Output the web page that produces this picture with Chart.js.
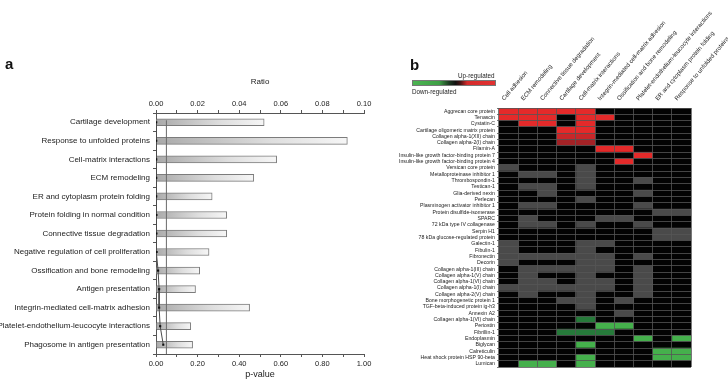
<!DOCTYPE html>
<html>
<head>
<meta charset="utf-8">
<script src="https://cdn.jsdelivr.net/npm/chart.js@4.4.1/dist/chart.umd.min.js"></script>
<style>
  body { margin: 0; background: #fff; font-family: "Liberation Sans", Arial, sans-serif; }
  #wrap { position: relative; width: 728px; height: 381px; overflow: hidden; }
  canvas { position: absolute; top: 0; }
  .tag { position: absolute; font-weight: bold; font-size: 15px; line-height: 1; color: #111; }
  .legend-bar { position: absolute; left: 412px; top: 80px; width: 84px; height: 6px; box-sizing: border-box;
    border: 1px solid #777;
    background: linear-gradient(to right, #4cb552 0%, #3e9f46 32%, #1d3b22 44%, #111 52%, #4a1414 58%, #d42b2b 66%, #e23131 100%); }
  .legend-txt { position: absolute; font-size: 6.3px; color: #222; line-height: 1; }
</style>
</head>
<body>
<div id="wrap">
  <canvas id="chartA" width="380" height="381" style="left:0"></canvas>
  <canvas id="chartB" width="348" height="381" style="left:380px"></canvas>
  <div class="tag" style="left:5px;top:56px">a</div>
  <div class="tag" style="left:410px;top:57px">b</div>
  <div class="legend-txt" style="left:458px;top:73px">Up-regulated</div>
  <div class="legend-bar"></div>
  <div class="legend-txt" style="left:412px;top:89px">Down-regulated</div>
</div>
<script>
// panel a: enriched processes
const processes = [
  'Cartilage development', 'Response to unfolded proteins', 'Cell-matrix interactions',
  'ECM remodeling', 'ER and cytoplasm protein folding', 'Protein folding in normal condition',
  'Connective tissue degradation', 'Negative regulation of cell proliferation',
  'Ossification and bone remodeling', 'Antigen presentation',
  'Integrin-mediated cell-matrix adhesion', 'Platelet-endothelium-leucocyte interactions',
  'Phagosome in antigen presentation'
]
const ratio = [0.052, 0.092, 0.058, 0.047, 0.027, 0.034, 0.034, 0.0255, 0.021, 0.019, 0.045, 0.0167, 0.0176]
const pValue = [0.001, 0.001, 0.001, 0.001, 0.001, 0.002, 0.002, 0.003, 0.01, 0.015, 0.015, 0.02, 0.035]
const pThreshold = 0.05

// panel b: heatmap
const heatColumns = [
  'Cell adhesion', 'ECM remodeling', 'Connective tissue degradation', 'Cartilage development',
  'Cell-matrix interactions', 'Integrin-mediated cell-matrix adhesion', 'Ossification and bone remodeling',
  'Platelet-endothelium-leucocyte interactions', 'ER and cytoplasm protein folding',
  'Response to unfolded proteins'
]
const proteins = [
  'Aggrecan core protein', 'Tenascin', 'Cystatin-C', 'Cartilage oligomeric matrix protein',
  'Collagen alpha-1(XII) chain', 'Collagen alpha-2(I) chain', 'Filamin-A',
  'Insulin-like growth factor-binding protein 7', 'Insulin-like growth factor-binding protein 4',
  'Versican core protein', 'Metalloproteinase inhibitor 1', 'Thrombospondin-1', 'Testican-1',
  'Glia-derived nexin', 'Perlecan', 'Plasminogen activator inhibitor 1', 'Protein disulfide-isomerase',
  'SPARC', '72 kDa type IV collagenase', 'Serpin H1', '78 kDa glucose-regulated protein',
  'Galectin-1', 'Fibulin-1', 'Fibronectin', 'Decorin', 'Collagen alpha-1(III) chain',
  'Collagen alpha-1(V) chain', 'Collagen alpha-1(VI) chain', 'Collagen alpha-1(I) chain',
  'Collagen alpha-2(V) chain', 'Bone morphogenetic protein 1', 'TGF-beta-induced protein ig-h3',
  'Annexin A2', 'Collagen alpha-1(VI) chain', 'Periostin', 'Fibrillin-1', 'Endoplasmin',
  'Biglycan', 'Calreticulin', 'Heat shock protein HSP 90-beta', 'Lumican'
]
// one string per protein, one char per column
// R up, r up (weaker), q up (weakest), G down, g down (weaker), n in process / unchanged, . absent
const regulation = [
  'RRRRR.....', 'RRR.RR....', '.RR.R.....', '...RR.....', '...rr.....', '...qq.....',
  '.....RR...', '.......R..', '......R...', 'n...n.....', '.nn.n.....', '....n..n..',
  '.nn.n.....', '..n....n..', '....n.....', '.nn....n..', '........nn', '.n...nn...',
  '.nn.n..n..', '........nn', '........nn', 'n...nn....', 'n...n.....', 'nnnnnn.n..',
  'n...nn....', '.nnnnn.n..', '.n..n..n..', '.nn.nn.n..', 'nnnnnn.n..', '.n..n..n..',
  '...nn.n...', '....n.....', '......n...', '....g.....', '.....GG...', '...ggg....',
  '.......G.G', '....G.....', '........GG', '....G...GG', '.GG.G.....'
]
const cellColors = { R: '#e42a2a', r: '#c92629', q: '#a32226', G: '#45b04c', g: '#267a3a', n: '#4a4a4a', '.': '#030303' }

const txt = '#222'
const axisGray = '#555'

const barFill = (context) => {
  const chart = context.chart
  const area = chart.chartArea
  if (!area || context.dataIndex === undefined) return '#d6d6d6'
  const xs = chart.scales.xr
  const x0 = xs.getPixelForValue(0)
  const x1 = xs.getPixelForValue(ratio[context.dataIndex])
  const g = chart.ctx.createLinearGradient(x0, 0, x1, 0)
  g.addColorStop(0, '#a9a9a9')
  g.addColorStop(0.6, '#dedede')
  g.addColorStop(1, '#f6f6f6')
  return g
}

const thresholdLine = {
  id: 'thresholdLine',
  afterDatasetsDraw(chart) {
    const { ctx, chartArea, scales } = chart
    const x = scales.xp.getPixelForValue(pThreshold)
    const yTop = scales.y.getPixelForValue(0) - 2
    ctx.save()
    ctx.strokeStyle = '#6a6a6a'
    ctx.lineWidth = 1
    ctx.beginPath()
    ctx.moveTo(x, yTop)
    ctx.lineTo(x, chartArea.bottom)
    ctx.stroke()
    ctx.restore()
  }
}

new Chart(document.getElementById('chartA'), {
  type: 'bar',
  data: {
    labels: processes,
    datasets: [
      {
        type: 'line', label: 'p-value', data: pValue, xAxisID: 'xp', yAxisID: 'y',
        borderColor: '#4a4a4a', borderWidth: 1, pointStyle: 'rect', pointRadius: 1.5,
        pointBackgroundColor: '#111', pointBorderColor: '#111', pointBorderWidth: 0, order: 0
      },
      {
        label: 'Ratio', data: ratio, xAxisID: 'xr', yAxisID: 'y',
        backgroundColor: barFill, borderColor: '#7c7c7c', borderWidth: 1, barThickness: 7, order: 1
      }
    ]
  },
  options: {
    indexAxis: 'y',
    responsive: false,
    animation: false,
    layout: { padding: { top: 77, right: 16, left: 0, bottom: 0 } },
    plugins: { legend: { display: false }, tooltip: { enabled: false } },
    scales: {
      y: {
        type: 'category', position: 'left',
        grid: { drawOnChartArea: false, tickLength: 3, color: axisGray, offset: true },
        border: { color: axisGray },
        ticks: { color: txt, font: { size: 8 }, padding: 3, autoSkip: false },
        afterFit(s) { s.width = 156 }
      },
      xr: {
        type: 'linear', position: 'top', min: 0, max: 0.1,
        grid: { drawOnChartArea: false, tickLength: 3, color: axisGray },
        border: { color: axisGray },
        ticks: {
          stepSize: 0.01, autoSkip: false, maxRotation: 0, color: txt, font: { size: 7.5 }, padding: 2,
          callback: (v, i) => (i % 2 ? '' : v.toFixed(2))
        },
        title: { display: true, text: 'Ratio', color: txt, font: { size: 8 }, padding: { top: 0, bottom: 3 } },
        afterFit(s) { s.height = 36; s.paddingLeft = 0; s.paddingRight = 0 }
      },
      xp: {
        type: 'linear', position: 'bottom', min: 0, max: 1,
        grid: { drawOnChartArea: false, tickLength: 3, color: axisGray },
        border: { color: axisGray },
        ticks: {
          stepSize: 0.1, autoSkip: false, maxRotation: 0, color: txt, font: { size: 7.5 }, padding: 2,
          callback: (v, i) => (i % 2 ? '' : v.toFixed(2))
        },
        title: { display: true, text: 'p-value', color: txt, font: { size: 9 }, padding: { top: 1, bottom: 1 } },
        afterFit(s) { s.height = 27; s.paddingLeft = 0; s.paddingRight = 0 }
      }
    }
  },
  plugins: [thresholdLine]
})

const cellGrid = '#555'

new Chart(document.getElementById('chartB'), {
  type: 'bar',
  data: {
    labels: proteins,
    datasets: heatColumns.map((col, c) => ({
      label: col,
      data: proteins.map(() => 1),
      backgroundColor: regulation.map(row => cellColors[row[c]]),
      borderWidth: 0,
      barPercentage: 1,
      categoryPercentage: 1,
      xAxisID: 'xv',
      yAxisID: 'y'
    }))
  },
  options: {
    indexAxis: 'y',
    responsive: false,
    animation: false,
    layout: { padding: { top: 0, right: 37, left: 0, bottom: 14 } },
    plugins: { legend: { display: false }, tooltip: { enabled: false } },
    scales: {
      y: {
        type: 'category', position: 'left', stacked: true,
        grid: { z: 1, color: cellGrid, lineWidth: 0.8, tickLength: 2, offset: true },
        border: { display: false },
        ticks: { color: txt, font: { size: 5.2 }, padding: 2, autoSkip: false },
        afterFit(s) { s.width = 119 }
      },
      xv: {
        type: 'linear', position: 'bottom', stacked: true, min: 0, max: heatColumns.length, display: false
      },
      xc: {
        type: 'category', labels: heatColumns, position: 'top', offset: true,
        grid: { z: 1, color: cellGrid, lineWidth: 0.8, drawTicks: false, offset: true },
        border: { display: false },
        ticks: { autoSkip: false, minRotation: 50, maxRotation: 50, color: txt, font: { size: 6 }, padding: 6 },
        afterFit(s) { s.height = 108; s.paddingLeft = 0; s.paddingRight = 0 }
      }
    }
  }
})
</script>
</body>
</html>
